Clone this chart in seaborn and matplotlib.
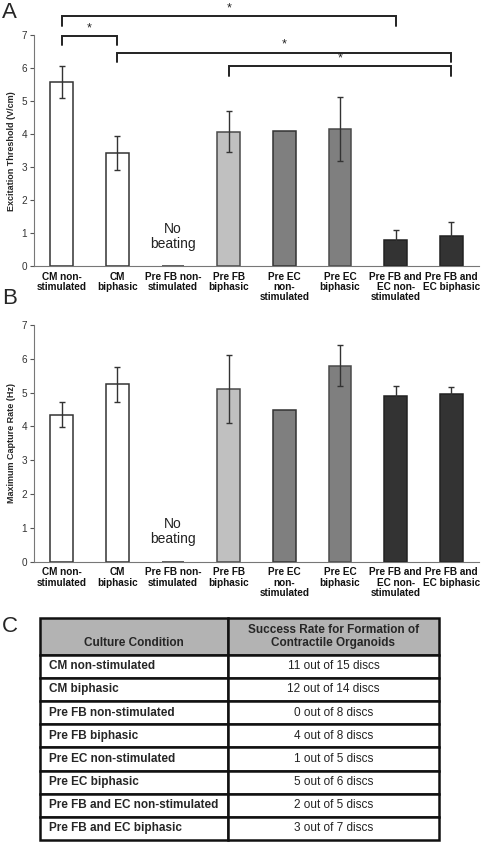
"""
Excitation threshold, capture rate and success-rate table for engineered cardiac organoids.
"""

import pandas as pd
import matplotlib.pyplot as plt
import seaborn as sns

sns.set_theme(style="white")
plt.rcParams["font.family"] = ["Liberation Sans", "DejaVu Sans"]

# data
CONDITIONS = ["CM non-stimulated", "CM biphasic", "Pre FB non-stimulated", "Pre FB biphasic",
              "Pre EC non-stimulated", "Pre EC biphasic", "Pre FB and EC non-stimulated",
              "Pre FB and EC biphasic"]
TICK_LABELS = ["CM non-\nstimulated", "CM\nbiphasic", "Pre FB non-\nstimulated", "Pre FB\nbiphasic",
               "Pre EC\nnon-\nstimulated", "Pre EC\nbiphasic", "Pre FB and\nEC non-\nstimulated",
               "Pre FB and\nEC biphasic"]
THRESHOLD = [5.58, 3.42, 0.0, 4.08, 4.10, 4.15, 0.80, 0.90]
THRESHOLD_ERR = [0.48, 0.52, 0.0, 0.62, 0.0, 0.97, 0.30, 0.45]
CAPTURE = [4.35, 5.25, 0.0, 5.10, 4.50, 5.80, 4.90, 4.97]
CAPTURE_ERR = [0.37, 0.52, 0.0, 1.00, 0.0, 0.60, 0.30, 0.20]
SUCCESS = ["11 out of 15 discs", "12 out of 14 discs", "0 out of 8 discs", "4 out of 8 discs",
           "1 out of 5 discs", "5 out of 6 discs", "2 out of 5 discs", "3 out of 7 discs"]
# significance brackets: (left idx, right idx, bracket top, drop)
SIG_PAIRS = [(0, 6, 7.60, 0.33), (0, 1, 6.97, 0.25), (1, 7, 6.48, 0.28), (3, 7, 6.06, 0.30)]

FILLS = ["#ffffff", "#ffffff", "#ffffff", "#c0c0c0", "#7f7f7f", "#7f7f7f", "#333333", "#333333"]
EDGES = ["#333333", "#333333", "#333333", "#4a4a4a", "#333333", "#4a4a4a", "#222222", "#222222"]


def draw_bars(ax, values, errors, ylabel):
    df = pd.DataFrame({"cond": CONDITIONS, "val": values})
    sns.barplot(data=df, x="cond", y="val", hue="cond", palette=FILLS, legend=False,
                width=0.41, edgecolor="#333333", linewidth=1.1, ax=ax)
    for patch, ec in zip(ax.patches, EDGES):
        patch.set_edgecolor(ec)
    xs = range(len(values))
    for x, v, e in zip(xs, values, errors):
        if e > 0:
            ax.errorbar(x, v, yerr=e, fmt="none", ecolor="#333333", elinewidth=1.0,
                        capsize=2.5, capthick=1.0)
    ax.set_ylim(0, 7)
    ax.set_xlim(-0.5, 7.5)
    ax.set_yticks(range(8))
    ax.set_xticks(list(xs))
    ax.set_xticklabels(TICK_LABELS, fontsize=7.2, fontweight="bold", linespacing=1.05,
                       color="#111111")
    ax.set_xticks([i - 0.5 for i in range(9)], minor=True)
    ax.tick_params(axis="x", which="major", length=0, pad=4)
    ax.tick_params(axis="x", which="minor", length=3, width=0.8, color="#555555", direction="out")
    ax.tick_params(axis="y", length=3, width=0.8, color="#555555", labelsize=7.2, labelcolor="#333333",
                   direction="out", left=True, pad=2)
    ax.set_xlabel("")
    ax.set_ylabel(ylabel, fontsize=6.5, fontweight="bold", labelpad=4)
    ax.spines[["top", "right"]].set_visible(False)
    ax.spines[["left", "bottom"]].set_color("#777777")
    ax.spines[["left", "bottom"]].set_linewidth(0.8)
    ax.text(2, 0.9, "No\nbeating", ha="center", va="center", fontsize=10, color="#222222",
            linespacing=1.1)


fig = plt.figure(figsize=(4.88, 8.42), dpi=100)

# A. Excitation threshold
ax_a = fig.add_axes([0.0697, 0.684, 0.912, 0.274])
draw_bars(ax_a, THRESHOLD, THRESHOLD_ERR, "Excitation Threshold (V/cm)")
for i, j, top, drop in SIG_PAIRS:
    ax_a.plot([i, i, j, j], [top - drop, top, top, top - drop], color="#222222", lw=1.4,
              clip_on=False, solid_joinstyle="miter")
    ax_a.text((i + j) / 2, top + 0.05, "*", ha="center", va="bottom", fontsize=9,
              color="#222222", clip_on=False)
fig.text(0.004, 0.998, "A", fontsize=16, va="top", ha="left")

# B. Maximum capture rate
ax_b = fig.add_axes([0.0697, 0.333, 0.912, 0.281])
draw_bars(ax_b, CAPTURE, CAPTURE_ERR, "Maximum Capture Rate (Hz)")
fig.text(0.004, 0.658, "B", fontsize=16, va="top", ha="left")

# C. Success rate table
fig.text(0.004, 0.268, "C", fontsize=16, va="top", ha="left")
ax_c = fig.add_axes([0.082, 0.0024, 0.818, 0.264])
ax_c.axis("off")
cell_text = [[c, s] for c, s in zip(CONDITIONS, SUCCESS)]
tbl = ax_c.table(cellText=cell_text,
                 colLabels=["\nCulture Condition", "Success Rate for Formation of\nContractile Organoids"],
                 colWidths=[0.47, 0.53], bbox=[0, 0, 1, 1], cellLoc="center")
tbl.auto_set_font_size(False)
for (r, c), cell in tbl.get_celld().items():
    cell.set_linewidth(1.8)
    cell.set_edgecolor("#111111")
    txt = cell.get_text()
    txt.set_fontsize(8.5)
    if r == 0:
        cell.set_height(1.6)
        cell.set_facecolor("#b3b3b3")
        txt.set_fontweight("bold")
        txt.set_linespacing(1.15)
    else:
        cell.set_height(1.0)
        if c == 0:
            txt.set_fontweight("bold")
            cell.set_text_props(ha="left")
            cell.PAD = 0.05
        else:
            txt.set_color("#222222")

fig.savefig("out.png", dpi=100)
